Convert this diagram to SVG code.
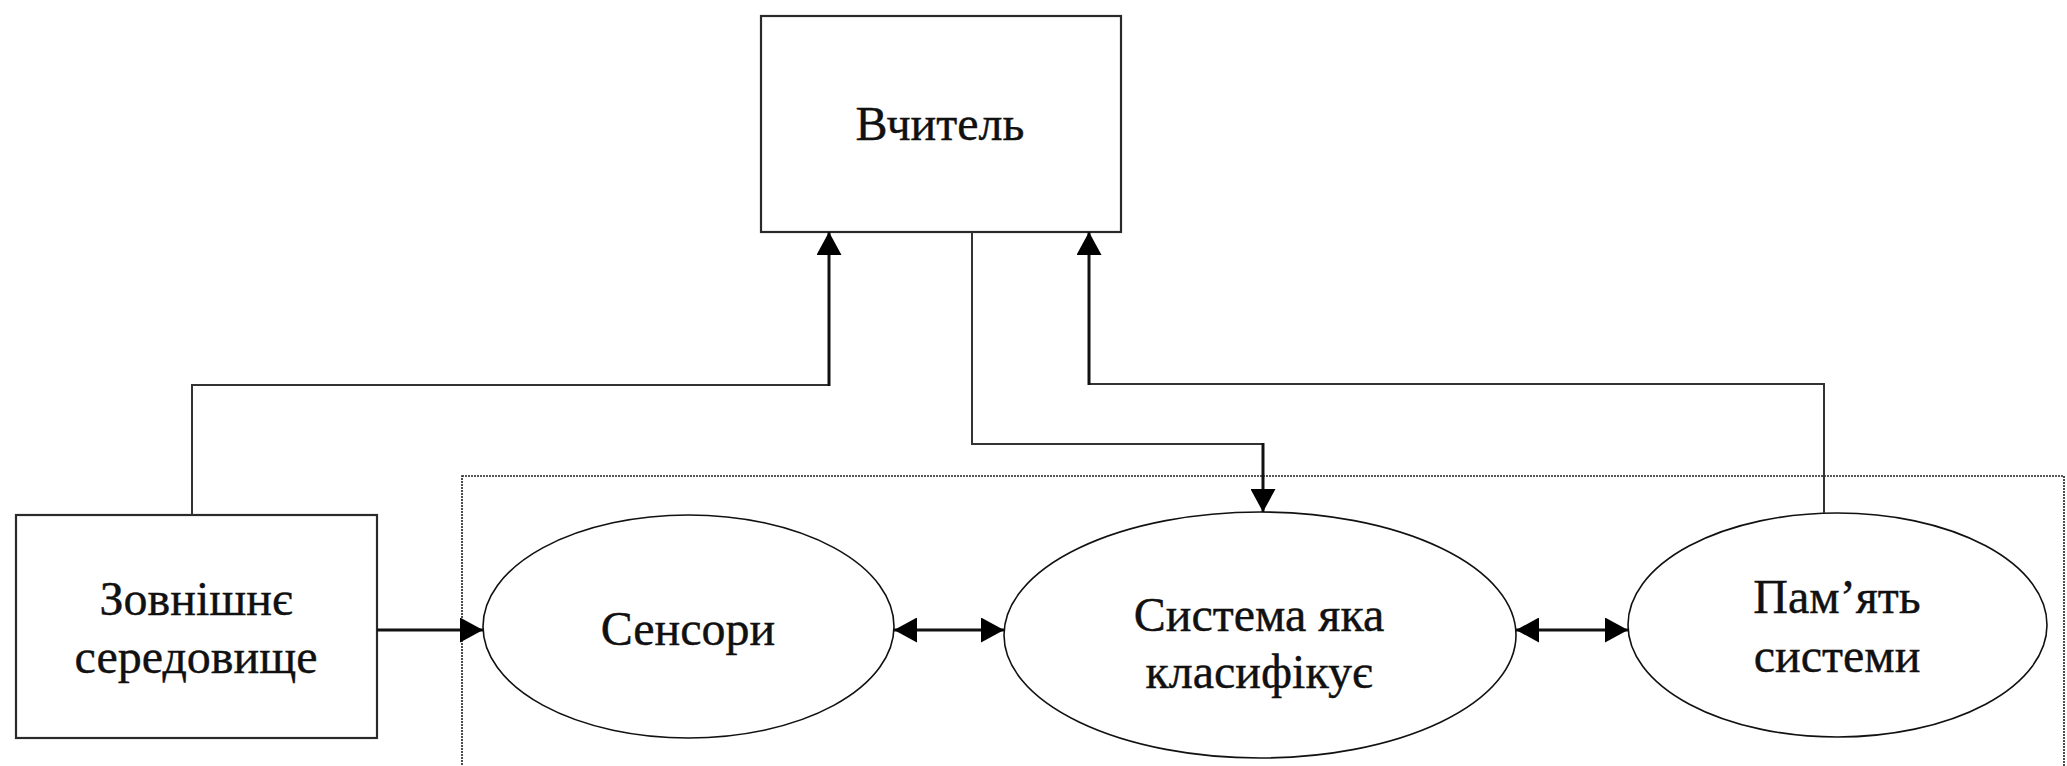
<svg xmlns="http://www.w3.org/2000/svg" width="2067" height="766" viewBox="0 0 2067 766">
<defs>
<style>
.box{fill:#fff;stroke:#2a2a2a;stroke-width:2.2}
.ell{fill:#fff;stroke:#111;stroke-width:1.6}
.frame{fill:none;stroke:#222;stroke-width:1.6;stroke-dasharray:2 1}
.ln{fill:none;stroke:#333;stroke-width:2}
.arr{fill:none;stroke:#111;stroke-width:3}
.t{font-family:'Liberation Serif','Times New Roman',serif;font-size:48px;fill:#111;stroke:#111;stroke-width:0.4;text-anchor:middle}
</style>
<marker id="ah" viewBox="0 0 23 25" markerUnits="userSpaceOnUse" markerWidth="23" markerHeight="25" refX="23" refY="12.5" orient="auto-start-reverse">
<path d="M0,0 L23,12.5 L0,25 Z" fill="#000"/>
</marker>
</defs>
<rect width="2067" height="766" fill="#fff"/>
<rect id="system-frame" class="frame" x="462" y="476" width="1602" height="296"/>
<g id="teacher">
<rect class="box" x="761" y="16" width="360" height="216"/>
<text class="t" x="940" y="140">Вчитель</text>
</g>
<g id="environment">
<rect class="box" x="16" y="515" width="361" height="223"/>
<text class="t" x="196" y="615">Зовнішнє</text>
<text class="t" x="196" y="673">середовище</text>
</g>
<g id="sensors">
<ellipse class="ell" cx="688.5" cy="626.5" rx="205.5" ry="111.5"/>
<text class="t" x="688" y="645">Сенсори</text>
</g>
<g id="classifier">
<ellipse class="ell" cx="1260" cy="635" rx="256" ry="123"/>
<text class="t" x="1259" y="631">Система яка</text>
<text class="t" x="1259" y="688">класифікує</text>
</g>
<g id="memory">
<ellipse class="ell" cx="1837.5" cy="625" rx="209.5" ry="112"/>
<text class="t" x="1837" y="613">Пам’ять</text>
<text class="t" x="1837" y="672">системи</text>
</g>
<g id="connectors">
<path class="ln" d="M192,515 V385 H829"/>
<path class="arr" d="M829,386 V232" marker-end="url(#ah)"/>
<path class="ln" d="M1824,513 V384 H1089"/>
<path class="arr" d="M1089,385 V232" marker-end="url(#ah)"/>
<path class="ln" d="M972,232 V444 H1263"/>
<path class="arr" d="M1263,443 V512" marker-end="url(#ah)"/>
<path class="arr" d="M377,630 H483" stroke-width="3.5" marker-end="url(#ah)"/>
<path class="arr" d="M894,630 H1004" marker-start="url(#ah)" marker-end="url(#ah)"/>
<path class="arr" d="M1516,630 H1628" marker-start="url(#ah)" marker-end="url(#ah)"/>
</g>
</svg>
